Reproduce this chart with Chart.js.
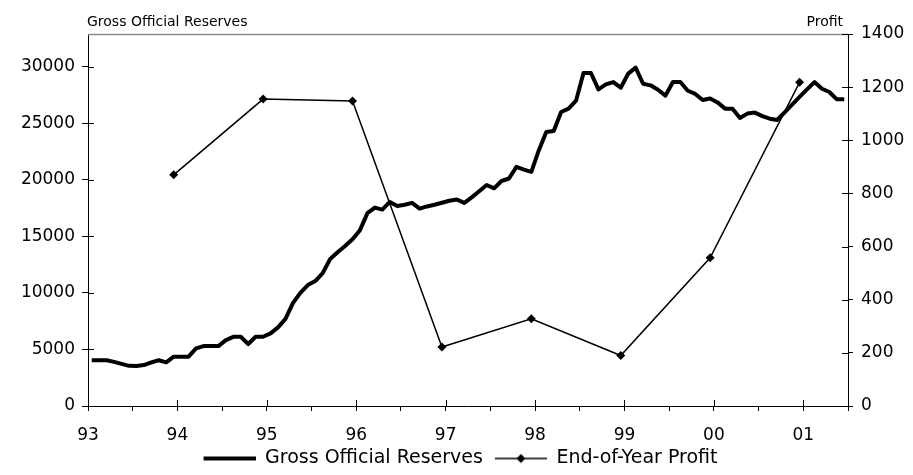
<!DOCTYPE html>
<html>
<head>
<meta charset="utf-8">
<script src="https://cdn.jsdelivr.net/npm/chart.js@4/dist/chart.umd.min.js"></script>
<style>
  html, body { margin: 0; padding: 0; background: #fff; }
  #wrap { width: 913px; height: 475px; }
</style>
</head>
<body>
<div id="wrap"><canvas id="chart1"></canvas></div>
<script>
// monthly, Jan 93 .. Jun 01
const startYear = 93;
const reserves = [
    4050, 4050, 4050, 3900, 3720, 3550, 3530, 3620, 3850, 4050, 3860, 4360,
    4360, 4360, 5100, 5300, 5300, 5300, 5830, 6120, 6120, 5480, 6120, 6120,
    6420, 6950, 7700, 9100, 10000, 10700, 11050, 11750, 13000, 13600, 14150, 14750,
    15550, 17050, 17550, 17370, 18050, 17680, 17800, 17960, 17460, 17650, 17800, 17980,
    18150, 18260, 17960, 18450, 19000, 19550, 19250, 19900, 20120, 21150, 20900, 20700,
    22600, 24230, 24330, 26000, 26300, 27000, 29450, 29450, 28000, 28440, 28650, 28150,
    29400, 29920, 28500, 28360, 27970, 27450, 28650, 28650, 27880, 27600, 27060, 27200,
    26850, 26300, 26280, 25470, 25860, 25950, 25640, 25410, 25300, 25970, 26650, 27330,
    28000, 28650, 28060, 27770, 27120, 27120
];

// end-of-year profit (December points)
const profitYears = [93, 94, 95, 96, 97, 98, 99, 100];
const profit = [870, 1155, 1148, 222, 328, 190, 558, 1218];

const yearLabels = ["93", "94", "95", "96", "97", "98", "99", "00", "01"];
const leftTicks = [0, 5000, 10000, 15000, 20000, 25000, 30000];
const rightTicks = [0, 200, 400, 600, 800, 1000, 1200, 1400];

const reservesPoints = reserves.map((v, i) => ({x: startYear + (i + 0.5) / 12, y: v}));
const profitPoints = profit.map((v, i) => ({x: profitYears[i] + 11.5 / 12, y: v}));

const FONT = "'DejaVu Sans', sans-serif";

// legend sample: transparent margin on the left, then the line
function legendIcon(width, marker) {
    const c = document.createElement("canvas");
    c.width = 60;
    c.height = 12;
    const g = c.getContext("2d");
    g.strokeStyle = "#000";
    g.lineWidth = width;
    g.beginPath();
    g.moveTo(8, 6);
    g.lineTo(60, 6);
    g.stroke();
    if (marker) {
        g.fillStyle = "#000";
        g.beginPath();
        g.moveTo(34, 1.5);
        g.lineTo(38.5, 6);
        g.lineTo(34, 10.5);
        g.lineTo(29.5, 6);
        g.closePath();
        g.fill();
    }
    return c;
}
const icons = [legendIcon(4, false), legendIcon(1.5, true)];

const frameAndTicks = {
    id: "frameAndTicks",
    afterDraw(chart) {
        const {ctx, chartArea: a, scales} = chart;
        ctx.save();
        // top frame
        ctx.strokeStyle = "#8c8c8c";
        ctx.lineWidth = 1.5;
        ctx.beginPath();
        ctx.moveTo(a.left, a.top + 0.5);
        ctx.lineTo(a.right, a.top + 0.5);
        ctx.stroke();
        // inside halves of the major ticks
        ctx.strokeStyle = "#000";
        ctx.lineWidth = 1;
        ctx.beginPath();
        scales.y.ticks.forEach(t => {
            const py = Math.round(scales.y.getPixelForValue(t.value)) + 0.5;
            ctx.moveTo(a.left, py);
            ctx.lineTo(a.left + 6, py);
        });
        scales.y1.ticks.forEach(t => {
            const py = Math.round(scales.y1.getPixelForValue(t.value)) + 0.5;
            ctx.moveTo(a.right, py);
            ctx.lineTo(a.right - 6, py);
        });
        scales.x.ticks.forEach(t => {
            if (!Number.isInteger(t.value)) return;
            const px = Math.round(scales.x.getPixelForValue(t.value)) + 0.5;
            ctx.moveTo(px, a.bottom);
            ctx.lineTo(px, a.bottom - 6);
        });
        ctx.stroke();
        // axis titles
        ctx.fillStyle = "#000";
        ctx.font = "14px " + FONT;
        ctx.textBaseline = "alphabetic";
        ctx.textAlign = "left";
        ctx.fillText("Gross Official Reserves", a.left - 1, a.top - 8);
        ctx.textAlign = "right";
        ctx.fillText("Profit", a.right - 5, a.top - 8);
        ctx.restore();
    }
};

new Chart("chart1", {
    type: "line",
    data: {
        datasets: [{
            label: "Gross Official Reserves",
            data: reservesPoints,
            borderColor: "#000",
            borderWidth: 4,
            borderJoinStyle: "round",
            pointRadius: 0,
            tension: 0,
            yAxisID: "y"
        }, {
            label: "End-of-Year Profit",
            data: profitPoints,
            borderColor: "#000",
            backgroundColor: "#000",
            borderWidth: 1.5,
            pointStyle: "rectRot",
            pointRadius: 4.5,
            pointBorderWidth: 0,
            tension: 0,
            yAxisID: "y1"
        }]
    },
    options: {
        responsive: true,
        maintainAspectRatio: false,
        animation: false,
        events: [],
        layout: {padding: {top: 34, left: 0, right: 0, bottom: -3}},
        plugins: {
            tooltip: {enabled: false},
            legend: {
                position: "bottom",
                labels: {
                    color: "#000",
                    font: {family: FONT, size: 19},
                    usePointStyle: true,
                    pointStyleWidth: 60,
                    padding: 4,
                    generateLabels: chart => chart.data.datasets.map((ds, i) => ({
                        text: ds.label,
                        pointStyle: icons[i],
                        datasetIndex: i,
                        hidden: false,
                        lineWidth: 0,
                        fillStyle: "transparent",
                        strokeStyle: "transparent",
                        fontColor: "#000"
                    }))
                }
            }
        },
        scales: {
            x: {
                type: "linear",
                min: 93,
                max: 101.5,
                afterFit: s => { s.height = 39; },
                border: {display: true, color: "#000", width: 1},
                grid: {display: true, drawOnChartArea: false, color: "#000", tickLength: 5},
                ticks: {
                    stepSize: 0.5,
                    autoSkip: false,
                    maxRotation: 0,
                    padding: 14,
                    color: "#000",
                    font: {family: FONT, size: 17},
                    callback: v => Number.isInteger(v) ? yearLabels[v - startYear] : ""
                }
            },
            y: {
                position: "left",
                min: 0,
                max: 32900,
                afterFit: s => { s.width = 88; },
                afterBuildTicks: s => { s.ticks = leftTicks.map(v => ({value: v})); },
                border: {display: true, color: "#000", width: 1},
                grid: {display: true, drawOnChartArea: false, color: "#000", tickLength: 6},
                ticks: {
                    padding: 7,
                    color: "#000",
                    font: {family: FONT, size: 17},
                    callback: v => String(v)
                }
            },
            y1: {
                position: "right",
                min: 0,
                max: 1400,
                afterFit: s => { s.width = 65; },
                afterBuildTicks: s => { s.ticks = rightTicks.map(v => ({value: v})); },
                border: {display: true, color: "#000", width: 1},
                grid: {display: true, drawOnChartArea: false, color: "#000", tickLength: 5},
                ticks: {
                    padding: 8,
                    color: "#000",
                    font: {family: FONT, size: 17},
                    callback: v => String(v)
                }
            }
        }
    },
    plugins: [frameAndTicks]
});
</script>
</body>
</html>
